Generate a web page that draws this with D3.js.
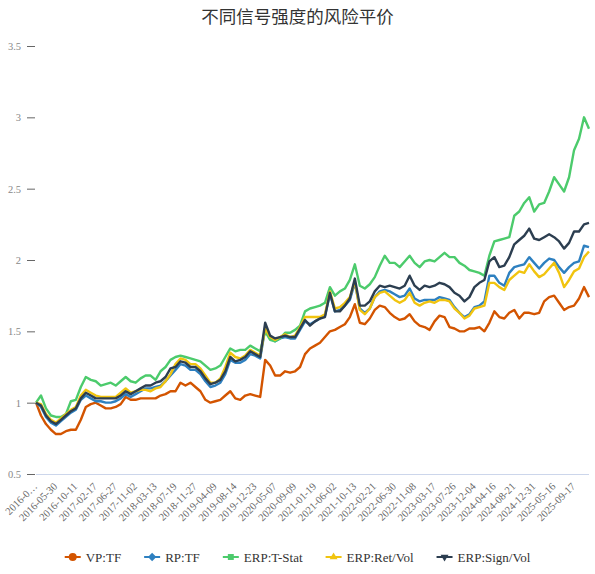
<!DOCTYPE html>
<html>
<head>
<meta charset="utf-8">
<script src="https://cdn.jsdelivr.net/npm/d3@7"></script>
<style>
  body { margin: 0; background: #fff; }
  svg { display: block; }
</style>
</head>
<body>
<svg id="chart" width="595" height="574"></svg>
<script>
// x labels, one every 4 samples (a sample is roughly 22 trading days)
const tickLabels = ["2016-0\u2026", "2016-05-30", "2016-10-11", "2017-02-17", "2017-06-27", "2017-11-02",
  "2018-03-13", "2018-07-19", "2018-11-27", "2019-04-09", "2019-08-14", "2019-12-23", "2020-05-07",
  "2020-09-09", "2021-01-19", "2021-06-02", "2021-10-13", "2022-02-21", "2022-06-30", "2022-11-08",
  "2023-03-17", "2023-07-26", "2023-12-04", "2024-04-16", "2024-08-21", "2024-12-31", "2025-05-16",
  "2025-09-17"];
const labelEvery = 4;

const yTicks = [0.5, 1, 1.5, 2, 2.5, 3, 3.5];

// net values
const vpTF = [1.00,0.91,0.85,0.81,0.78,0.78,0.80,0.81,0.81,0.88,0.97,0.99,1.00,0.98,0.96,0.96,0.97,0.99,1.04,1.02,1.02,1.03,1.03,1.03,1.03,1.05,1.06,1.08,
  1.08,1.14,1.12,1.14,1.11,1.08,1.02,1.00,1.01,1.02,1.05,1.08,1.03,1.02,1.05,1.06,1.05,1.04,1.30,1.26,1.19,1.19,1.22,1.21,1.22,1.25,1.34,
  1.38,1.40,1.42,1.46,1.50,1.51,1.53,1.55,1.60,1.69,1.56,1.55,1.59,1.65,1.68,1.67,1.63,1.60,1.58,1.59,1.62,1.57,1.54,1.53,1.51,1.57,1.61,
  1.60,1.53,1.52,1.50,1.50,1.52,1.52,1.53,1.50,1.56,1.64,1.60,1.59,1.63,1.65,1.59,1.63,1.63,1.62,1.63,1.71,1.74,1.75,1.70,1.65,1.67,1.68,1.73,1.81,1.74];

const rpTF = [1.00,0.97,0.90,0.86,0.84,0.87,0.90,0.93,0.95,1.02,1.05,1.03,1.01,1.01,1.00,1.00,1.01,1.03,1.06,1.04,1.06,1.08,1.10,1.10,1.11,1.12,1.15,1.19,
  1.23,1.27,1.26,1.23,1.23,1.20,1.15,1.11,1.12,1.14,1.20,1.30,1.28,1.28,1.30,1.34,1.33,1.31,1.52,1.45,1.43,1.45,1.46,1.45,1.45,1.51,1.57,
  1.55,1.57,1.59,1.61,1.76,1.64,1.65,1.68,1.72,1.84,1.66,1.63,1.66,1.74,1.78,1.79,1.78,1.76,1.74,1.75,1.80,1.73,1.71,1.72,1.72,1.72,1.74,
  1.73,1.72,1.67,1.63,1.60,1.62,1.67,1.68,1.71,1.89,1.89,1.84,1.82,1.91,1.95,1.96,1.97,2.02,1.98,1.94,1.98,2.01,2.00,1.95,1.91,1.95,1.98,1.99,2.10,2.09];

const erpTStat = [1.00,1.05,0.96,0.91,0.90,0.90,0.92,1.01,1.02,1.11,1.18,1.16,1.15,1.12,1.13,1.14,1.12,1.15,1.18,1.15,1.14,1.17,1.19,1.19,1.16,1.22,1.25,1.30,
  1.32,1.33,1.32,1.31,1.30,1.29,1.26,1.23,1.24,1.26,1.32,1.38,1.36,1.37,1.37,1.40,1.38,1.36,1.50,1.44,1.43,1.45,1.49,1.49,1.51,1.54,1.64,
  1.66,1.67,1.68,1.70,1.81,1.75,1.78,1.80,1.86,1.97,1.82,1.80,1.83,1.88,1.96,2.03,1.98,1.98,1.95,1.99,2.03,1.98,1.95,1.99,2.00,1.99,2.02,
  2.05,2.02,2.02,1.98,1.96,1.93,1.92,1.91,1.89,2.03,2.13,2.14,2.15,2.16,2.31,2.34,2.40,2.44,2.34,2.39,2.40,2.48,2.58,2.53,2.48,2.58,2.77,2.85,3.00,2.92];

const erpRetVol = [1.00,0.99,0.92,0.88,0.86,0.89,0.92,0.95,0.97,1.05,1.09,1.07,1.05,1.04,1.04,1.04,1.04,1.07,1.10,1.07,1.08,1.09,1.09,1.08,1.10,1.11,1.15,1.20,
  1.27,1.31,1.30,1.27,1.27,1.24,1.19,1.14,1.14,1.17,1.25,1.35,1.32,1.31,1.33,1.37,1.35,1.33,1.52,1.46,1.44,1.46,1.48,1.46,1.47,1.53,1.60,
  1.60,1.60,1.60,1.62,1.78,1.66,1.67,1.70,1.74,1.85,1.65,1.62,1.66,1.74,1.77,1.78,1.75,1.72,1.70,1.72,1.77,1.70,1.68,1.70,1.71,1.70,1.72,
  1.72,1.71,1.66,1.63,1.59,1.61,1.66,1.67,1.68,1.84,1.84,1.81,1.79,1.86,1.89,1.92,1.91,1.97,1.92,1.88,1.90,1.94,1.98,1.91,1.81,1.86,1.92,1.94,2.02,2.06];

const erpSignVol = [1.00,0.98,0.91,0.87,0.85,0.88,0.91,0.94,0.96,1.03,1.07,1.05,1.03,1.03,1.03,1.03,1.03,1.05,1.08,1.06,1.08,1.10,1.12,1.12,1.14,1.15,1.18,1.24,
  1.25,1.29,1.28,1.25,1.25,1.22,1.17,1.13,1.14,1.16,1.22,1.32,1.29,1.30,1.32,1.36,1.34,1.32,1.56,1.47,1.45,1.46,1.47,1.46,1.46,1.52,1.58,
  1.54,1.57,1.59,1.60,1.77,1.64,1.64,1.68,1.73,1.87,1.68,1.68,1.71,1.78,1.82,1.81,1.82,1.81,1.80,1.82,1.89,1.82,1.79,1.82,1.81,1.82,1.84,
  1.83,1.81,1.77,1.75,1.71,1.74,1.81,1.84,1.86,1.99,2.02,1.95,1.96,2.02,2.11,2.14,2.17,2.22,2.15,2.14,2.16,2.18,2.16,2.13,2.08,2.12,2.20,2.20,2.25,2.26];

const seriesNames = ["VP:TF", "RP:TF", "ERP:T-Stat", "ERP:Ret/Vol", "ERP:Sign/Vol"];
const seriesValues = [vpTF, rpTF, erpTStat, erpRetVol, erpSignVol];
const seriesColors = ["#d35400", "#2e80c0", "#4ccb6c", "#f1c40f", "#2c3e50"];
const seriesSymbols = [d3.symbolCircle, d3.symbolDiamond2, d3.symbolSquare2, d3.symbolTriangle2, d3.symbolTriangle2];

const W = 595, H = 574;
const plot = {left: 36, right: 589, top: 46, bottom: 474};
const serif = "'Liberation Serif', 'DejaVu Serif', serif";

let svg = d3.select("#chart");

let x = d3.scaleLinear()
  .domain([0, vpTF.length - 1])
  .range([plot.left, plot.right]);

let y = d3.scaleLinear()
  .domain([0.5, 3.5])
  .range([plot.bottom, plot.top]);

// title
svg.append("text")
  .attr("x", W / 2)
  .attr("y", 23)
  .attr("text-anchor", "middle")
  .style("font-family", "'Noto Sans CJK SC', sans-serif")
  .style("font-size", "17.5px")
  .style("fill", "#333")
  .text("不同信号强度的风险平价");

// y axis: ticks only, no axis line
let yAxis = svg.append("g")
  .attr("transform", "translate(" + plot.left + ",0)")
  .call(d3.axisLeft(y).tickValues(yTicks).tickSize(9).tickPadding(6).tickFormat(d3.format("")));
yAxis.select(".domain").remove();
yAxis.selectAll(".tick line").attr("stroke", "#666").attr("x2", -9).attr("x1", -1);
yAxis.selectAll(".tick text")
  .style("font-family", serif)
  .style("font-size", "10.5px")
  .style("fill", "#888");

// x axis line
svg.append("line")
  .attr("x1", plot.left).attr("x2", plot.right)
  .attr("y1", plot.bottom + 0.5).attr("y2", plot.bottom + 0.5)
  .attr("stroke", "#ccd6eb");

// rotated x labels
svg.append("g")
  .selectAll("text")
  .data(tickLabels)
  .enter()
  .append("text")
    .attr("transform", (d, i) => "translate(" + (x(i * labelEvery) + 2) + "," + (plot.bottom + 13) + ") rotate(-45)")
    .attr("text-anchor", "end")
    .style("font-family", serif)
    .style("font-size", "10.5px")
    .style("fill", "#666")
    .text(d => d);

// lines
let line = d3.line()
  .x((d, i) => x(i))
  .y(d => y(d));

svg.append("g")
  .selectAll("path")
  .data(seriesValues)
  .enter()
  .append("path")
    .attr("d", d => line(d))
    .attr("fill", "none")
    .attr("stroke", (d, i) => seriesColors[i])
    .attr("stroke-width", 2.4)
    .attr("stroke-linejoin", "round");

// legend
let legend = svg.append("g");
let items = legend.selectAll("g")
  .data(seriesNames)
  .enter()
  .append("g");

items.append("line")
  .attr("x1", 0).attr("x2", 16)
  .attr("y1", 0).attr("y2", 0)
  .attr("stroke", (d, i) => seriesColors[i])
  .attr("stroke-width", 2);

items.append("path")
  .attr("d", (d, i) => d3.symbol().type(seriesSymbols[i]).size(i == 0 ? 50 : 45)())
  .attr("transform", (d, i) => "translate(8,0)" + (i == 4 ? " rotate(180)" : ""))
  .attr("fill", (d, i) => seriesColors[i]);

items.append("text")
  .attr("x", 21)
  .attr("y", 4.5)
  .style("font-family", serif)
  .style("font-size", "13px")
  .style("fill", "#333")
  .text(d => d);

let offsets = [];
let pos = 0;
items.each(function(d, i) {
  offsets.push(pos);
  let w = 21 + this.querySelector("text").getComputedTextLength();
  pos += w + 23;
});
let totalW = pos - 23;
items.attr("transform", (d, i) => "translate(" + (offsets[i]) + ",0)");
legend.attr("transform", "translate(" + ((W - totalW) / 2) + ",557)");
</script>
</body>
</html>
